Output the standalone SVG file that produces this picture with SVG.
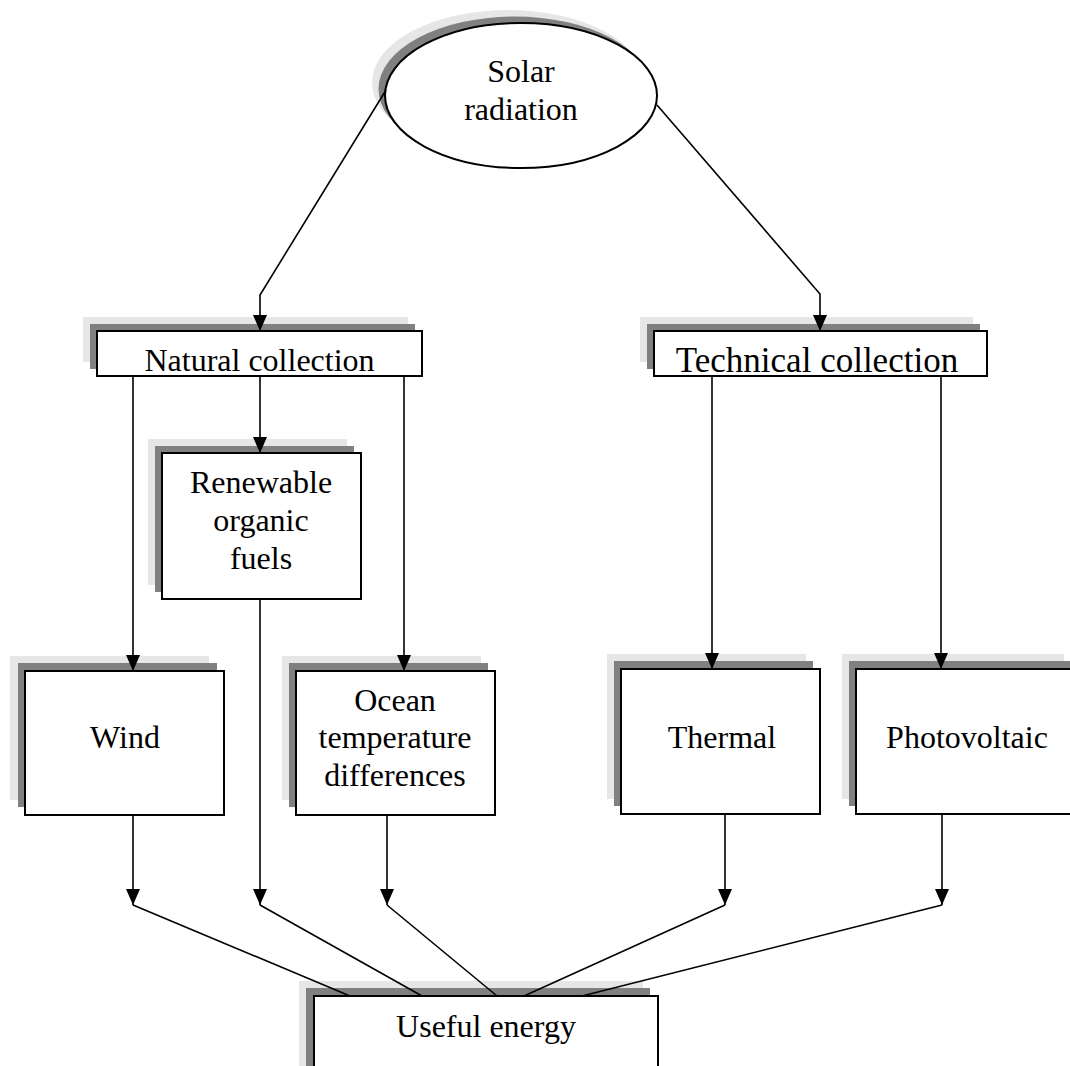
<svg xmlns="http://www.w3.org/2000/svg" width="1070" height="1066" viewBox="0 0 1070 1066">
<style>
.box{fill:#ffffff;stroke:#000000;stroke-width:2}
.sh1{fill:#e6e6e6;stroke:none}
.sh2{fill:#808080;stroke:none}
.lbl{font-family:"Liberation Serif","Times New Roman",serif;font-size:32px;fill:#000000;text-anchor:middle}
.con{fill:none;stroke:#000000;stroke-width:1.6}
</style>
<defs>
<marker id="arr" markerWidth="16" markerHeight="14" refX="16" refY="7" orient="auto" markerUnits="userSpaceOnUse" viewBox="0 0 16 14">
<path d="M0,0 L16,7 L0,14 Z" fill="#000000"/>
</marker>
</defs>
<rect width="1070" height="1066" fill="#ffffff"/>

<g id="solar">
<ellipse class="sh1" cx="508" cy="82.5" rx="136" ry="72.5"/>
<ellipse class="sh2" cx="514.5" cy="89" rx="136" ry="72.5"/>
<ellipse class="box" cx="521" cy="95.5" rx="136" ry="72.5"/>
<text class="lbl" x="521" y="82">Solar</text>
<text class="lbl" x="521" y="120">radiation</text>
</g>

<g id="natural">
<rect class="sh1" x="83" y="317" width="325" height="45"/>
<rect class="sh2" x="90" y="324" width="325" height="45"/>
<rect class="box" x="97" y="331" width="325" height="45"/>
<text class="lbl" x="259.5" y="371">Natural collection</text>
</g>

<g id="technical">
<rect class="sh1" x="640" y="317" width="333" height="45"/>
<rect class="sh2" x="647" y="324" width="333" height="45"/>
<rect class="box" x="654" y="331" width="333" height="45"/>
<text class="lbl" x="817" y="372" style="font-size:35px">Technical collection</text>
</g>

<g id="renewable">
<rect class="sh1" x="148" y="439" width="199" height="146"/>
<rect class="sh2" x="155" y="446" width="199" height="146"/>
<rect class="box" x="162" y="453" width="199" height="146"/>
<text class="lbl" x="261" y="493">Renewable</text>
<text class="lbl" x="261" y="531">organic</text>
<text class="lbl" x="261" y="569">fuels</text>
</g>

<g id="wind">
<rect class="sh1" x="10" y="656" width="199" height="144"/>
<rect class="sh2" x="18" y="663" width="199" height="144"/>
<rect class="box" x="25" y="671" width="199" height="144"/>
<text class="lbl" x="125" y="748">Wind</text>
</g>

<g id="ocean">
<rect class="sh1" x="282" y="656" width="199" height="144"/>
<rect class="sh2" x="289" y="663" width="199" height="144"/>
<rect class="box" x="296" y="671" width="199" height="144"/>
<text class="lbl" x="395" y="711">Ocean</text>
<text class="lbl" x="395" y="748">temperature</text>
<text class="lbl" x="395" y="786">differences</text>
</g>

<g id="thermal">
<rect class="sh1" x="607" y="654" width="199" height="145"/>
<rect class="sh2" x="614" y="661" width="199" height="145"/>
<rect class="box" x="621" y="669" width="199" height="145"/>
<text class="lbl" x="722" y="748">Thermal</text>
</g>

<g id="photovoltaic">
<rect class="sh1" x="842" y="654" width="222" height="145"/>
<rect class="sh2" x="849" y="661" width="222" height="145"/>
<rect class="box" x="856" y="669" width="222" height="145"/>
<text class="lbl" x="967" y="748">Photovoltaic</text>
</g>

<g id="useful">
<rect class="sh1" x="299" y="981" width="344" height="100"/>
<rect class="sh2" x="306" y="988" width="344" height="100"/>
<rect class="box" x="314" y="996" width="344" height="100"/>
<text class="lbl" x="486" y="1037">Useful energy</text>
</g>

<g id="connectors">
<polyline class="con" points="386,90 260,295 260,331" marker-end="url(#arr)"/>
<polyline class="con" points="657,105 820,294 820,331" marker-end="url(#arr)"/>
<line class="con" x1="133" y1="376" x2="133" y2="671" marker-end="url(#arr)"/>
<line class="con" x1="260" y1="376" x2="260" y2="453" marker-end="url(#arr)"/>
<line class="con" x1="404" y1="376" x2="404" y2="671" marker-end="url(#arr)"/>
<line class="con" x1="712" y1="376" x2="712" y2="669" marker-end="url(#arr)"/>
<line class="con" x1="941" y1="376" x2="941" y2="669" marker-end="url(#arr)"/>
<line class="con" x1="133" y1="815" x2="133" y2="905" marker-end="url(#arr)"/>
<line class="con" x1="260" y1="599" x2="260" y2="905" marker-end="url(#arr)"/>
<line class="con" x1="387" y1="815" x2="387" y2="905" marker-end="url(#arr)"/>
<line class="con" x1="725" y1="814" x2="725" y2="905" marker-end="url(#arr)"/>
<line class="con" x1="942" y1="814" x2="942" y2="905" marker-end="url(#arr)"/>
<line class="con" x1="133" y1="905" x2="350" y2="996"/>
<line class="con" x1="260" y1="905" x2="422" y2="996"/>
<line class="con" x1="387" y1="905" x2="497" y2="996"/>
<line class="con" x1="725" y1="905" x2="524" y2="996"/>
<line class="con" x1="942" y1="905" x2="582" y2="996"/>
</g>
</svg>
